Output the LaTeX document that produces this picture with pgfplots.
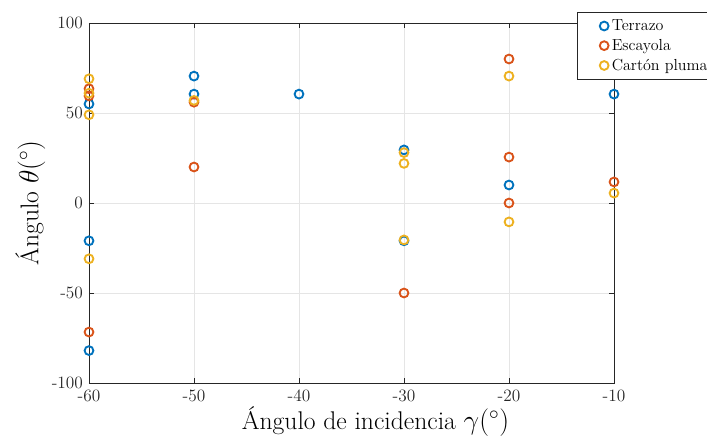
\documentclass[border=0pt]{standalone}
\usepackage{pgfplots}
\pgfplotsset{compat=1.18}
\definecolor{c1}{rgb}{0,0.447,0.741}
\definecolor{c2}{rgb}{0.85,0.325,0.098}
\definecolor{c3}{rgb}{0.929,0.694,0.125}
\definecolor{axc}{rgb}{0.15,0.15,0.15}
\begin{document}
\begin{tikzpicture}
\useasboundingbox (-66.75pt,-42pt) rectangle (463.5pt,287.25pt);
\begin{axis}[
  scale only axis, width=393.75pt, height=270pt,
  xmin=-60, xmax=-10, ymin=-100, ymax=100,
  xtick={-60,-50,-40,-30,-20,-10},
  ytick={-100,-50,0,50,100},
  grid=major, grid style={black!10, line width=0.5pt},
  tick align=inside, major tick length=4pt,
  axis line style={axc, line width=0.6pt},
  tick style={axc, line width=0.6pt},
  ticklabel style={font=\fontsize{13}{15}\selectfont, text=axc},
  xticklabel style={yshift=-1.5pt},
  yticklabel style={xshift=-1pt},
  /pgf/number format/assume math mode=true,
  xlabel={Ángulo de incidencia $\gamma(^\circ)$},
  ylabel={Ángulo $\theta(^\circ)$},
  label style={font=\fontsize{19.2}{23}\selectfont, text=black},
  xlabel style={yshift=3pt, xshift=18pt},
  ylabel style={yshift=-2pt},
  legend style={at={(rel axis cs:0.9295,1.0306)}, anchor=north west,
    font=\fontsize{12}{14}\selectfont, draw=axc, fill=white,
    cells={anchor=west}, row sep=1pt, inner xsep=2pt, inner ysep=3.5pt},
  legend image code/.code={
    \path (0pt,0pt) (20.5pt,0pt);
    \draw[#1, only marks] plot[only marks] coordinates {(17.5pt,0pt)};
  },
  every axis plot/.append style={only marks, mark=o, mark size=3.3pt, line width=1.4pt},
]
\addplot[c1, only marks] coordinates {
(-60,55) (-60,-21) (-60,-82)
(-50,70.5) (-50,60.5)
(-40,60.5)
(-30,29.5) (-30,-21)
(-20,10)
(-10,60.5)
};
\addlegendentry{Terrazo}
\addplot[c2, only marks] coordinates {
(-60,63.5) (-60,59.5) (-60,-71.7)
(-50,56) (-50,20)
(-30,-50)
(-20,80) (-20,25.5) (-20,0)
(-10,11.7)
};
\addlegendentry{Escayola}
\addplot[c3, only marks] coordinates {
(-60,69) (-60,61) (-60,49) (-60,-31)
(-50,57)
(-30,28) (-30,22) (-30,-20.5)
(-20,70.5) (-20,-10.5)
(-10,5.5)
};
\addlegendentry{Cartón pluma}
\end{axis}
\end{tikzpicture}
\end{document}
